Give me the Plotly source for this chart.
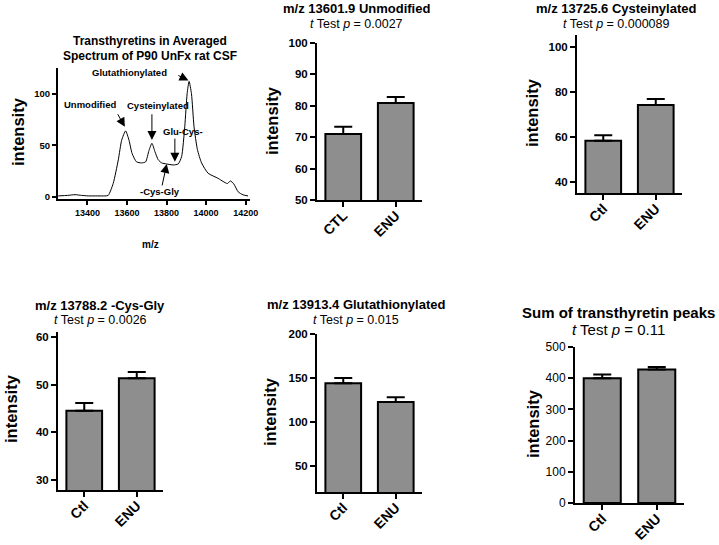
import plotly.graph_objects as go

# ---------------- data ----------------
spec_mz = [13252, 13300, 13337, 13370, 13404, 13450, 13488, 13505, 13530, 13556, 13573, 13593,
           13610, 13626, 13648, 13674, 13694, 13711, 13726, 13741, 13758, 13775, 13800, 13834,
           13859, 13876, 13892, 13904, 13914, 13926, 13939, 13956, 13977, 14010, 14061, 14086,
           14108, 14123, 14140, 14162, 14187, 14212]
spec_int = [1.0, 1.5, 2.2, 1.5, 1.0, 1.0, 1.0, 1.5, 13, 36, 55, 64,
            55, 42, 34, 33, 34, 45, 52, 44, 36, 33, 32, 31,
            32, 39, 68, 100, 112, 100, 68, 46, 33, 23, 18, 15,
            13, 15.5, 12.6, 5, 2, 1]

spec_ticks_x = [13400, 13600, 13800, 14000, 14200]
spec_ticks_y = [0, 50, 100]

groups_upper = ["CTL", "ENU"]
groups = ["Ctl", "ENU"]

unmod_mean = [71.0, 80.9]
unmod_err = [2.3, 1.9]
cyst_mean = [58.3, 74.2]
cyst_err = [2.5, 2.7]
cysgly_mean = [44.5, 51.3]
cysgly_err = [1.6, 1.3]
gluta_mean = [144.0, 122.7]
gluta_err = [6.0, 5.4]
sum_mean = [400, 428]
sum_err = [12, 8]

titles = ["m/z 13601.9 Unmodified", "m/z 13725.6 Cysteinylated", "m/z 13788.2 -Cys-Gly",
          "m/z 13913.4 Glutathionylated", "Sum of transthyretin peaks"]
pvals = ["0.0027", "0.000089", "0.0026", "0.015", "0.11"]

# ---------------- layout helpers ----------------
W, H = 719, 545
FONT = "Liberation Sans, Arial, sans-serif"


def px_x(a, b):
    return [a / W, b / W]


def px_y(top, bottom):
    return [1 - bottom / H, 1 - top / H]


fig = go.Figure()

# spectrum
fig.add_trace(go.Scatter(x=spec_mz, y=spec_int, mode="lines",
                         line=dict(color="black", width=1, shape="spline", smoothing=0.6),
                         xaxis="x", yaxis="y", showlegend=False, hoverinfo="skip"))

bar_sets = [
    (groups_upper, unmod_mean, unmod_err, "x2", "y2"),
    (groups, cyst_mean, cyst_err, "x3", "y3"),
    (groups, cysgly_mean, cysgly_err, "x4", "y4"),
    (groups, gluta_mean, gluta_err, "x5", "y5"),
    (groups, sum_mean, sum_err, "x6", "y6"),
]
for cats, vals, errs, xa, ya in bar_sets:
    fig.add_trace(go.Bar(
        x=cats, y=vals, xaxis=xa, yaxis=ya, showlegend=False,
        marker=dict(color="#8e8e8e", line=dict(color="black", width=2)),
        error_y=dict(type="data", symmetric=False, array=errs, arrayminus=[0] * len(errs),
                     color="black", thickness=2, width=9),
        width=0.68,
    ))


def axis_common(**kw):
    d = dict(showline=True, linecolor="black", linewidth=2, ticks="outside", ticklen=5,
             tickwidth=2, tickcolor="black", showgrid=False, zeroline=False, fixedrange=True)
    d.update(kw)
    return d


def cat_axis(a, b, yref):
    return axis_common(domain=px_x(a, b), anchor=yref, tickangle=-45, ticklabelstandoff=-5,
                       tickfont=dict(family=FONT, size=14, color="black", weight="bold"), range=[-0.5, 1.5])


bold_tick = dict(family=FONT, size=11.5, color="black", weight="bold")

layout = dict(
    width=W, height=H, margin=dict(l=0, r=0, t=0, b=0, pad=0, autoexpand=False),
    paper_bgcolor="white", plot_bgcolor="white",
    xaxis=axis_common(domain=px_x(58, 250), anchor="y", range=[13251, 14222], tickvals=spec_ticks_x,
                      tickformat="d", ticklen=4,
                      tickfont=dict(family=FONT, size=9, color="black", weight="bold")),
    yaxis=axis_common(domain=px_y(68, 199), anchor="x", range=[-2, 125], tickvals=spec_ticks_y,
                      ticklen=4, tickfont=dict(family=FONT, size=9.5, color="black", weight="bold")),
    xaxis2=cat_axis(317, 422, "y2"),
    yaxis2=axis_common(domain=px_y(43, 200), anchor="x2", range=[50, 100], tickvals=[50, 60, 70, 80, 90, 100],
                       tickfont=bold_tick),
    xaxis3=cat_axis(577, 682, "y3"),
    yaxis3=axis_common(domain=px_y(35, 193), anchor="x3", range=[35.1, 105.3], tickvals=[40, 60, 80, 100],
                       tickfont=bold_tick),
    xaxis4=cat_axis(58, 163, "y4"),
    yaxis4=axis_common(domain=px_y(332, 490), anchor="x4", range=[27.9, 61.0], tickvals=[30, 40, 50, 60],
                       tickfont=bold_tick),
    xaxis5=cat_axis(317, 422, "y5"),
    yaxis5=axis_common(domain=px_y(334, 492), anchor="x5", range=[20.5, 200], tickvals=[50, 100, 150, 200],
                       tickfont=bold_tick),
    xaxis6=cat_axis(575, 684, "y6"),
    yaxis6=axis_common(domain=px_y(347, 503), anchor="x6", range=[0, 500], tickvals=[0, 100, 200, 300, 400, 500],
                       tickfont=dict(family=FONT, size=12, color="black")),
)

ann = []


def text_px(x, y, text, size, bold=False, angle=0):
    ann.append(dict(x=x / W, y=1 - y / H, xref="paper", yref="paper", text=text, showarrow=False,
                    xanchor="center", yanchor="middle", textangle=angle,
                    font=dict(family=FONT, size=size, color="black", weight="bold" if bold else "normal")))


# spectrum title and labels
text_px(150, 41, "Transthyretins in Averaged", 12, True)
text_px(150, 56, "Spectrum of P90 UnFx rat CSF", 12, True)
text_px(150, 244, "m/z", 10, True)

# panel titles
title_pos = [(356, 8, 24, 13, 12.5), (616, 8, 24, 13, 12.5), (100, 305, 320, 13, 12.5),
             (356, 304, 320, 13, 12.5), (618, 312, 329, 15, 15)]
for (cx, ty, sy, ts, ss), t, p in zip(title_pos, titles, pvals):
    text_px(cx, ty, t, ts, True)
    text_px(cx, sy, "<i>t</i> Test <i>p</i> = " + p, ss, False)

# y titles
for x, y in [(18, 132), (272, 121), (532, 113), (11, 409), (270, 412), (533, 424)]:
    text_px(x, y, "intensity", 16.5, True, -90)

# spectrum annotations: labels
for mz, it, t in [(13615, 121, "Glutathionylated"), (13413, 89.3, "Unmodified"),
                  (13756, 88.3, "Cysteinylated"), (13882, 63, "Glu-Cys-"), (13766, 4.9, "-Cys-Gly")]:
    ann.append(dict(x=mz, y=it, xref="x", yref="y", text=t, showarrow=False, xanchor="center",
                    yanchor="middle", font=dict(family=FONT, size=9.5, color="black", weight="bold")))

# spectrum arrows (head, tail)
for hx, hy, tx, ty in [(13911, 113, 13852, 118.4), (13589, 68, 13549, 81.6), (13726, 55.3, 13726, 81.6),
                       (13842, 34, 13842, 58), (13801, 32, 13776, 9.7)]:
    ann.append(dict(x=hx, y=hy, ax=tx, ay=ty, xref="x", yref="y", axref="x", ayref="y", text="",
                    showarrow=True, arrowhead=2, arrowsize=1.8, arrowwidth=1, arrowcolor="black", standoff=0))

layout["annotations"] = ann
fig.update_layout(**layout)
fig.write_html("out.html", config={"displayModeBar": False, "staticPlot": True},
               post_script=["document.body.style.margin='0';document.body.style.padding='0';"
                            "document.body.style.overflow='hidden';"])
